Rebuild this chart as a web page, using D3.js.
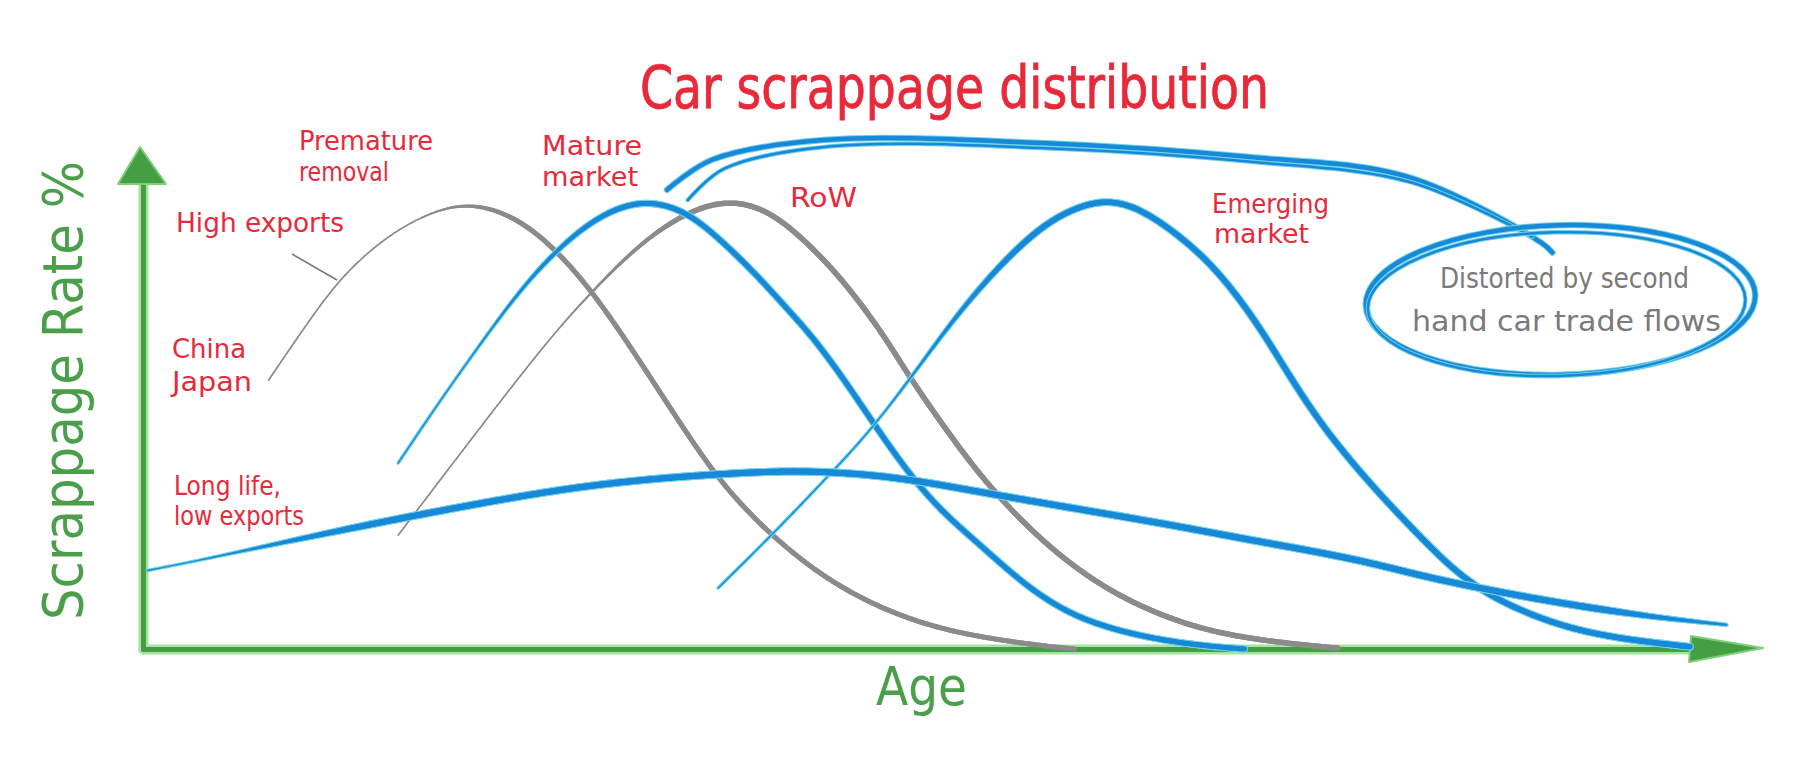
<!DOCTYPE html>
<html>
<head>
<meta charset="utf-8">
<script src="https://cdn.jsdelivr.net/npm/d3@7"></script>
<style>
  html, body { margin: 0; padding: 0; background: #fff; }
  svg { display: block; }
  text { font-family: "Liberation Sans Narrow", "DejaVu Sans Condensed", sans-serif; }
</style>
</head>
<body>
<div id="chart"></div>
<script>
// age in years on x, scrappage rate (peak = 10) on y
const highExports = [[3.1, 6.0], [4.0, 7.2], [4.8, 8.2], [5.6, 8.9], [6.5, 9.5], [7.8, 10], [9.0, 9.75],
  [10.0, 9.1], [11.0, 8.1], [12.0, 6.8], [13.0, 5.4], [14.1, 3.9], [15.0, 3.0], [15.7, 2.4], [16.8, 1.6],
  [18.2, 0.9], [19.8, 0.4], [21.7, 0.12], [23.0, 0]];
const restOfWorld = [[6.3, 2.54], [8.2, 4.8], [10.0, 6.9], [11.0, 7.9], [12.2, 9.0], [13.3, 9.7], [14.4, 10.05],
  [15.5, 9.8], [16.6, 8.9], [17.4, 8.1], [18.3, 7.0], [18.9, 6.1], [19.9, 4.8], [20.9, 3.6], [22.3, 2.3],
  [23.8, 1.3], [25.4, 0.64], [26.8, 0.3], [28.3, 0.12], [29.5, 0.02]];
const matureMarket = [[6.3, 4.15], [7.3, 5.5], [8.4, 6.9], [9.3, 8.0], [10.2, 8.9], [11.2, 9.65], [12.3, 10.05],
  [13.4, 9.8], [14.3, 9.1], [15.1, 8.4], [15.9, 7.6], [16.6, 6.9], [17.4, 5.9], [18.1, 4.95], [19.0, 3.8],
  [19.8, 3.0], [20.7, 2.3], [21.8, 1.4], [23.0, 0.7], [24.5, 0.3], [26.0, 0.08], [27.2, 0]];
const emergingMarket = [[14.2, 1.36], [15.7, 2.7], [16.8, 3.75], [17.9, 4.8], [19.0, 6.1], [20.2, 7.6],
  [21.5, 8.9], [22.5, 9.65], [23.6, 10.05], [24.5, 9.9], [25.5, 9.3], [26.5, 8.5], [27.5, 7.3], [28.3, 6.1],
  [29.1, 5.0], [30.0, 4.0], [30.8, 3.2], [31.7, 2.35], [32.5, 1.65], [33.5, 1.05], [35.0, 0.5], [36.5, 0.22],
  [38.2, 0.05]];
const longLife = [[0.1, 1.75], [1.5, 2.0], [3.3, 2.35], [5.8, 2.82], [8.0, 3.2], [10.2, 3.55], [12.0, 3.75],
  [13.6, 3.87], [15.7, 3.98], [17.0, 3.95], [18.2, 3.87], [19.5, 3.7], [21.3, 3.4], [23.9, 3.0], [25.5, 2.75],
  [27.3, 2.44], [28.8, 2.2], [30.2, 1.95], [31.5, 1.65], [32.5, 1.45], [34.2, 1.15], [36.0, 0.88],
  [37.6, 0.68], [39.1, 0.54]];

// "distorted by second hand trade" pointer, drawn twice like the pen did
const tradeArrowA = [[12.94, 10.25], [14.05, 10.92], [16.79, 11.36], [22.3, 11.29], [27.33, 10.98],
  [31.23, 10.54], [34.54, 9.06], [34.8, 8.85]];
const tradeArrowB = [[13.45, 10.02], [14.35, 10.72], [17.0, 11.22], [22.3, 11.18], [27.3, 10.88],
  [31.3, 10.42], [34.3, 9.2]];
const tradeNote = [35.0, 7.79, 4.81, 1.67]; // centre age, centre rate, half width, half height

const title = "Car scrappage distribution";
const xLabel = "Age";
const yLabel = "Scrappage Rate %";
const noteLines = ["Distorted by second", "hand car trade flows"];
const redLabels = ["Premature", "removal", "Mature", "market", "High exports", "China", "Japan",
  "Long life,", "low exports", "RoW", "Emerging", "market"];

const W = 1801, H = 781;
const GRAY = "#8b8b8b", BLUE = "#1888d8", HALO = "#6fd2e4", RED = "#e8293a", GREEN = "#449e44";

const x = d3.scaleLinear().domain([0, 40]).range([143, 1763]);
const y = d3.scaleLinear().domain([0, 10]).range([649, 201]);

const svg = d3.select("#chart").append("svg")
  .attr("width", W).attr("height", H)
  .attr("viewBox", `0 0 ${W} ${H}`);

// axes, no ticks, just the arrows
const xAxisScale = x.copy().domain([0, 38.8]).range([143, x(38.8)]);
const yAxisScale = y.copy().domain([0, 10.7]).range([649, y(10.7)]);

[["#a6e2a0", 10], [GREEN, 5]].forEach(([c, w]) => {
  const gx = svg.append("g").attr("transform", `translate(0,${y(0)})`)
    .call(d3.axisBottom(xAxisScale).tickValues([]).tickSizeOuter(0));
  gx.select(".domain").attr("stroke", c).attr("stroke-width", w).attr("stroke-linecap", "round");
  const gy = svg.append("g").attr("transform", `translate(${x(0)},0)`)
    .call(d3.axisLeft(yAxisScale).tickValues([]).tickSizeOuter(0));
  gy.select(".domain").attr("stroke", c).attr("stroke-width", w).attr("stroke-linecap", "round");
});

const x0 = x(0), yTop = 147, xEnd = 1763, y0 = y(0);
svg.append("path")
  .attr("d", `M${x0 - 3},${yTop} L${x0 + 23},${yTop + 37} L${x0 - 25},${yTop + 37} Z`)
  .attr("fill", GREEN).attr("stroke", "#7dcf78").attr("stroke-width", 2).attr("stroke-linejoin", "round");
svg.append("path")
  .attr("d", `M${xEnd},${y0 - 1} L${xEnd - 74},${y0 + 13} L${xEnd - 72},${y0 - 13} Z`)
  .attr("fill", GREEN).attr("stroke", "#7dcf78").attr("stroke-width", 2).attr("stroke-linejoin", "round");

// pen stroke that gets heavier as it goes: sample the smooth curve, draw short segments
function sketchLine(data, st) {
  const line = d3.line().x(d => x(d[0])).y(d => y(d[1])).curve(d3.curveBasis);
  const tmp = svg.append("path").attr("d", line(data)).attr("fill", "none");
  const node = tmp.node();
  const L = node.getTotalLength();
  const n = Math.ceil(L / 2.5);
  const pts = d3.range(n + 1).map(i => node.getPointAtLength(L * i / n));
  tmp.remove();

  const widthAt = (p) => {
    const a = x.invert(p.x);
    let t = Math.max(0, Math.min(1, (a - st.from) / (st.to - st.from)));
    t = t * t * (3 - 2 * t);
    let w = st.w0 + (st.w1 - st.w0) * t;
    if (st.fade) {
      let f = Math.max(0, Math.min(1, (a - st.fade[0]) / (st.fade[1] - st.fade[0])));
      w = w + (1.5 - w) * f;
    }
    return w;
  };
  const segs = d3.pairs(pts).map(([a, b]) => ({ a, b, w: widthAt(a) }));

  const g = svg.append("g").attr("stroke-linecap", "round");
  if (st.halo) {
    g.append("g").selectAll("line").data(segs).join("line")
      .attr("x1", d => d.a.x).attr("y1", d => d.a.y)
      .attr("x2", d => d.b.x).attr("y2", d => d.b.y)
      .attr("stroke", st.halo).attr("stroke-width", d => d.w + 2.2);
  }
  g.append("g").selectAll("line").data(segs).join("line")
    .attr("x1", d => d.a.x).attr("y1", d => d.a.y)
    .attr("x2", d => d.b.x).attr("y2", d => d.b.y)
    .attr("stroke", st.color).attr("stroke-width", d => d.w);
}

sketchLine(highExports, { color: GRAY, w0: 1.6, w1: 5, from: 6.5, to: 9.5 });
sketchLine(restOfWorld, { color: GRAY, w0: 1.6, w1: 5.5, from: 10, to: 14 });
sketchLine(matureMarket, { color: BLUE, halo: HALO, w0: 1.2, w1: 5, from: 7.5, to: 12 });
sketchLine(emergingMarket, { color: BLUE, halo: HALO, w0: 1.2, w1: 5.5, from: 18, to: 22 });
sketchLine(longLife, { color: BLUE, halo: HALO, w0: 1.1, w1: 6, from: 1, to: 6, fade: [36, 39.5] });

// the second-hand trade pointer and its bubble
const arrowLine = d3.line().x(d => x(d[0])).y(d => y(d[1])).curve(d3.curveCatmullRom.alpha(0.5));
[[tradeArrowA, 4.5], [tradeArrowB, 2.5]].forEach(([d, w]) => {
  svg.append("path").attr("d", arrowLine(d)).attr("fill", "none")
    .attr("stroke", HALO).attr("stroke-width", w + 2).attr("stroke-linecap", "round");
  svg.append("path").attr("d", arrowLine(d)).attr("fill", "none")
    .attr("stroke", BLUE).attr("stroke-width", w).attr("stroke-linecap", "round");
});

const [nA, nR, nW, nH] = tradeNote;
const cx = x(nA), cy = y(nR), rx = x(nA + nW) - x(nA), ry = y(nR - nH) - y(nR);
[[0, 0, 0, 4.5], [-4, 4, -6, 2.5]].forEach(([dx, dy, dr, w]) => {
  svg.append("ellipse")
    .attr("cx", cx + dx).attr("cy", cy + dy).attr("rx", rx + dr).attr("ry", ry + dr / 2)
    .attr("transform", `rotate(-1.5,${cx},${cy})`)
    .attr("fill", "none").attr("stroke", HALO).attr("stroke-width", w + 2);
  svg.append("ellipse")
    .attr("cx", cx + dx).attr("cy", cy + dy).attr("rx", rx + dr).attr("ry", ry + dr / 2)
    .attr("transform", `rotate(-1.5,${cx},${cy})`)
    .attr("fill", "none").attr("stroke", BLUE).attr("stroke-width", w);
});

// leader from "High exports" to its curve
svg.append("line").attr("x1", 292).attr("y1", 254).attr("x2", 337).attr("y2", 280)
  .attr("stroke", "#777").attr("stroke-width", 1.5);

// text
const txt = (s, px, py, len, size, color) => svg.append("text")
  .attr("x", px).attr("y", py).attr("font-size", size).attr("fill", color)
  .attr("textLength", len).attr("lengthAdjust", "spacingAndGlyphs")
  .text(s);

txt(title, 640, 108, 629, 58, RED).attr("stroke", RED).attr("stroke-width", 0.8);

const redPos = [[299, 150, 134], [299, 181, 90], [542, 155, 100], [542, 186, 96], [176, 232, 168],
  [172, 358, 74], [172, 391, 80], [174, 495, 107], [174, 525, 130], [790, 207, 67],
  [1212, 213, 117], [1214, 243, 95]];
redLabels.forEach((s, i) => txt(s, redPos[i][0], redPos[i][1], redPos[i][2], 26, RED));

txt(noteLines[0], 1440, 288, 249, 28, "#7a7a7a");
txt(noteLines[1], 1412, 331, 309, 28, "#7a7a7a");

txt(xLabel, 876, 705, 91, 54, "#4c9f4a");
svg.append("text")
  .attr("transform", `translate(82,620) rotate(-90)`)
  .attr("font-size", 56).attr("fill", "#4c9f4a")
  .attr("textLength", 459).attr("lengthAdjust", "spacingAndGlyphs")
  .text(yLabel);
</script>
</body>
</html>
